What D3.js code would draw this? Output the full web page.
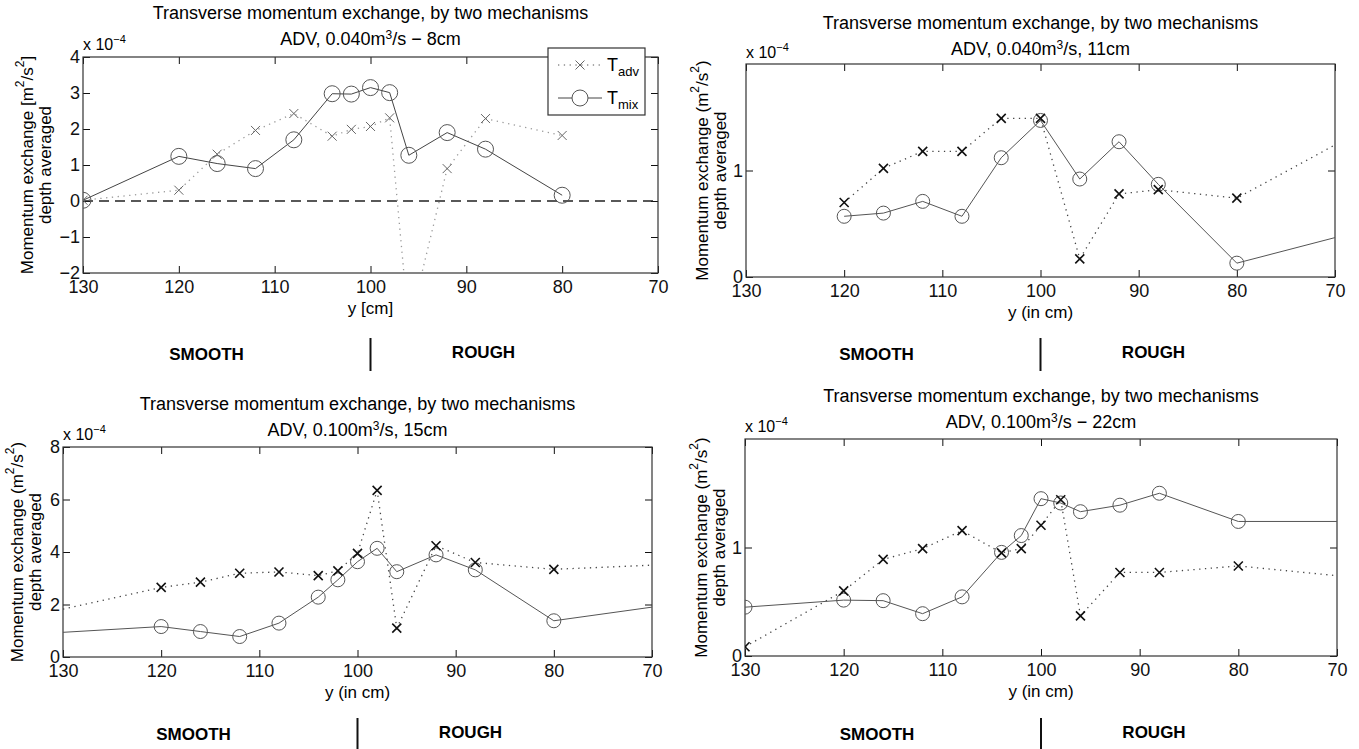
<!DOCTYPE html>
<html>
<head>
<meta charset="utf-8">
<script src="https://cdn.jsdelivr.net/npm/d3@7"></script>
<style>
  body { margin: 0; background: #fff; }
  svg { display: block; font-family: "Liberation Sans", Arial, Helvetica, sans-serif; }
</style>
</head>
<body>
<div id="chart"></div>
<script>
// y positions across the channel (cm) and the two exchange terms, x 10^-4 m2/s2
var pos8 = [130, 120, 116, 112, 108, 104, 102, 100, 98, 96, 92, 88, 80]
var adv8 = [0.02, 0.30, 1.30, 1.96, 2.43, 1.80, 1.99, 2.07, 2.31, -3.5, 0.90, 2.29, 1.82]
var mix8 = [0.02, 1.24, 1.04, 0.90, 1.70, 2.98, 2.97, 3.15, 3.01, 1.27, 1.90, 1.44, 0.16]

var pos11 = [120, 116, 112, 108, 104, 100, 96, 92, 88, 80, 70]
var adv11 = [0.70, 1.02, 1.18, 1.18, 1.49, 1.49, 0.17, 0.78, 0.82, 0.74, 1.24]
var mix11 = [0.57, 0.60, 0.71, 0.57, 1.12, 1.47, 0.92, 1.27, 0.87, 0.13, 0.37]

var pos15 = [130, 120, 116, 112, 108, 104, 102, 100, 98, 96, 92, 88, 80, 70]
var adv15 = [1.82, 2.65, 2.85, 3.19, 3.24, 3.10, 3.28, 3.95, 6.35, 1.10, 4.24, 3.60, 3.34, 3.50]
var mix15 = [0.94, 1.16, 0.97, 0.78, 1.29, 2.28, 2.94, 3.63, 4.14, 3.25, 3.89, 3.32, 1.38, 1.90]

var pos22 = [130, 120, 116, 112, 108, 104, 102, 100, 98, 96, 92, 88, 80, 70]
var adv22 = [0.085, 0.60, 0.89, 0.99, 1.155, 0.95, 0.99, 1.205, 1.44, 0.37, 0.77, 0.77, 0.83, 0.74]
var mix22 = [0.45, 0.515, 0.51, 0.39, 0.545, 0.955, 1.11, 1.45, 1.41, 1.33, 1.39, 1.50, 1.24, 1.24]

// line ends at the plot border that carry no marker
var edge8 = []
var edge11 = [70]
var edge15 = [130, 70]
var edge22 = [70]

var xTicks = [130, 120, 110, 100, 90, 80, 70]
var titleLine1 = "Transverse momentum exchange, by two mechanisms"

var W = 1359, H = 749

var svg = d3.select("#chart")
    .append("svg")
    .attr("width", W)
    .attr("height", H)

var fmt = function(d) { return d < 0 ? "\u2212" + Math.abs(d) : d }

function drawPanel(p) {
  var x = d3.scaleLinear().domain([130, 70]).range([p.left, p.right])
  var y = d3.scaleLinear().domain(p.yDomain).range([p.bottom, p.top])
  var g = svg.append("g")

  var clipId = "clip" + p.id
  g.append("clipPath").attr("id", clipId)
    .append("rect")
    .attr("x", p.left).attr("y", p.top)
    .attr("width", p.right - p.left).attr("height", p.bottom - p.top)

  // axes, ticks pointing inward on all four sides
  g.append("g")
    .attr("transform", "translate(0," + p.bottom + ")")
    .call(d3.axisBottom(x).tickValues(xTicks).tickSizeInner(-7).tickSizeOuter(0).tickPadding(7))
    .select(".domain").remove()
  g.append("g")
    .attr("transform", "translate(0," + p.top + ")")
    .call(d3.axisTop(x).tickValues(xTicks).tickSizeInner(-7).tickSizeOuter(0).tickFormat(""))
    .select(".domain").remove()
  g.append("g")
    .attr("transform", "translate(" + p.left + ",0)")
    .call(d3.axisLeft(y).tickValues(p.yTicks).tickSizeInner(-7).tickSizeOuter(0).tickPadding(3).tickFormat(fmt))
    .select(".domain").remove()
  g.append("g")
    .attr("transform", "translate(" + p.right + ",0)")
    .call(d3.axisRight(y).tickValues(p.yTicks).tickSizeInner(-7).tickSizeOuter(0).tickFormat(""))
    .select(".domain").remove()

  g.selectAll(".tick line").attr("stroke", "#111")
  g.selectAll(".tick text")
    .attr("fill", "#111")
    .style("font-size", "18px")
    .style("font-family", "'Liberation Sans', Arial, sans-serif")

  g.append("rect")
    .attr("x", p.left).attr("y", p.top)
    .attr("width", p.right - p.left).attr("height", p.bottom - p.top)
    .attr("fill", "none")
    .attr("stroke", "#333")
    .attr("stroke-width", 1.2)

  if (p.zeroLine) {
    g.append("line")
      .attr("x1", x(130)).attr("x2", x(70))
      .attr("y1", y(0)).attr("y2", y(0))
      .attr("stroke", "#222")
      .attr("stroke-dasharray", "10,6")
      .attr("stroke-width", 1.3)
  }

  var advPts = p.pos.map(function(d, i) { return { x: d, v: p.adv[i] } })
  var mixPts = p.pos.map(function(d, i) { return { x: d, v: p.mix[i] } })

  var line = d3.line()
    .x(function(d) { return x(d.x) })
    .y(function(d) { return y(d.v) })

  var plot = g.append("g").attr("clip-path", "url(#" + clipId + ")")

  plot.append("path")
    .datum(advPts)
    .attr("d", line)
    .attr("fill", "none")
    .attr("stroke", p.advLine)
    .attr("stroke-width", 1.3)
    .attr("stroke-dasharray", "1.3,4.5")

  plot.append("path")
    .datum(mixPts)
    .attr("d", line)
    .attr("fill", "none")
    .attr("stroke", p.mixLine)
    .attr("stroke-width", 1)

  var shown = function(d) { return p.edge.indexOf(d.x) < 0 }

  plot.selectAll(".circ")
    .data(mixPts.filter(shown))
    .enter().append("circle")
    .attr("class", "circ")
    .attr("cx", function(d) { return x(d.x) })
    .attr("cy", function(d) { return y(d.v) })
    .attr("r", p.r)
    .attr("fill", "none")
    .attr("stroke", p.circColor)
    .attr("stroke-width", 1)

  var s = 4.5
  plot.selectAll(".cross")
    .data(advPts.filter(shown))
    .enter().append("path")
    .attr("class", "cross")
    .attr("d", function(d) {
      var cx = x(d.x), cy = y(d.v)
      return "M" + (cx - s) + "," + (cy - s) + "L" + (cx + s) + "," + (cy + s) +
             "M" + (cx - s) + "," + (cy + s) + "L" + (cx + s) + "," + (cy - s)
    })
    .attr("stroke", p.crossColor)
    .attr("stroke-width", p.crossWidth)

  var cx = (p.left + p.right) / 2

  // titles
  g.append("text")
    .attr("x", cx).attr("y", p.titleY)
    .attr("text-anchor", "middle")
    .style("font-size", "18px")
    .text(titleLine1)
  var t2 = g.append("text")
    .attr("x", cx).attr("y", p.titleY + 26)
    .attr("text-anchor", "middle")
    .style("font-size", "18px")
  t2.append("tspan").text(p.sub[0])
  t2.append("tspan").attr("dy", -6).style("font-size", "12px").text("3")
  t2.append("tspan").attr("dy", 6).text(p.sub[1])

  // exponent label
  var ex = g.append("text")
    .attr("x", p.left).attr("y", p.expY)
    .style("font-size", "16px")
  ex.append("tspan").text("x 10")
  ex.append("tspan").attr("dy", -7).style("font-size", "11px").text("\u22124")

  // x label
  g.append("text")
    .attr("x", cx).attr("y", p.bottom + 41)
    .attr("text-anchor", "middle")
    .style("font-size", "17px")
    .text(p.xLabel)

  // y label, two lines
  var my = (p.top + p.bottom) / 2
  var yl = g.append("text")
    .attr("transform", "translate(" + p.yl1 + "," + my + ") rotate(-90)")
    .attr("text-anchor", "middle")
    .attr("dominant-baseline", "central")
    .style("font-size", "17px")
  yl.append("tspan").text("Momentum exchange " + p.br[0] + "m")
  yl.append("tspan").attr("dy", -7).style("font-size", "12px").text("2")
  yl.append("tspan").attr("dy", 7).text("/s")
  yl.append("tspan").attr("dy", -7).style("font-size", "12px").text("2")
  yl.append("tspan").attr("dy", 7).text(p.br[1])
  g.append("text")
    .attr("transform", "translate(" + p.yl2 + "," + my + ") rotate(-90)")
    .attr("text-anchor", "middle")
    .attr("dominant-baseline", "central")
    .style("font-size", "17px")
    .text("depth averaged")

  // smooth / rough annotation under the panel
  var bx = x(100)
  g.append("line")
    .attr("x1", bx).attr("x2", bx)
    .attr("y1", p.zoneY - 14).attr("y2", p.zoneY + 19)
    .attr("stroke", "#111")
    .attr("stroke-width", 2)
  g.append("text")
    .attr("x", bx - 164).attr("y", p.zoneY + 8)
    .attr("text-anchor", "middle")
    .style("font-size", "17px").style("font-weight", "bold")
    .text("SMOOTH")
  g.append("text")
    .attr("x", bx + 113).attr("y", p.zoneY + 6)
    .attr("text-anchor", "middle")
    .style("font-size", "17px").style("font-weight", "bold")
    .text("ROUGH")

  return { x: x, y: y, g: g }
}

var pA = drawPanel({
  id: "A", left: 83, right: 658, top: 57, bottom: 273,
  yDomain: [-2, 4], yTicks: [-2, -1, 0, 1, 2, 3, 4],
  pos: pos8, adv: adv8, mix: mix8, edge: edge8, zeroLine: true,
  advLine: "#9a9a9a", mixLine: "#444", circColor: "#555", crossColor: "#666", crossWidth: 1, r: 8,
  titleY: 19, expY: 50, sub: ["ADV, 0.040m", "/s \u2212 8cm"], xLabel: "y [cm]",
  yl1: 27, yl2: 45, br: ["[", "]"], zoneY: 352
})

drawPanel({
  id: "B", left: 746, right: 1335, top: 64, bottom: 277,
  yDomain: [0, 2], yTicks: [0, 1],
  pos: pos11, adv: adv11, mix: mix11, edge: edge11, zeroLine: false,
  advLine: "#444", mixLine: "#555", circColor: "#555", crossColor: "#111", crossWidth: 1.6, r: 7,
  titleY: 29, expY: 58, sub: ["ADV, 0.040m", "/s, 11cm"], xLabel: "y (in cm)",
  yl1: 702, yl2: 720, br: ["(", ")"], zoneY: 352
})

drawPanel({
  id: "C", left: 63, right: 652, top: 447, bottom: 657,
  yDomain: [0, 8], yTicks: [0, 2, 4, 6, 8],
  pos: pos15, adv: adv15, mix: mix15, edge: edge15, zeroLine: false,
  advLine: "#444", mixLine: "#555", circColor: "#555", crossColor: "#111", crossWidth: 1.6, r: 7,
  titleY: 410, expY: 440, sub: ["ADV, 0.100m", "/s, 15cm"], xLabel: "y (in cm)",
  yl1: 17, yl2: 35, br: ["(", ")"], zoneY: 732
})

drawPanel({
  id: "D", left: 745, right: 1337, top: 439, bottom: 656,
  yDomain: [0, 2], yTicks: [0, 1],
  pos: pos22, adv: adv22, mix: mix22, edge: edge22, zeroLine: false,
  advLine: "#444", mixLine: "#555", circColor: "#555", crossColor: "#111", crossWidth: 1.6, r: 7,
  titleY: 402, expY: 432, sub: ["ADV, 0.100m", "/s \u2212 22cm"], xLabel: "y (in cm)",
  yl1: 701, yl2: 719, br: ["(", ")"], zoneY: 732
})

// legend, first panel only
var lg = pA.g.append("g")
lg.append("rect")
  .attr("x", 548).attr("y", 48)
  .attr("width", 97).attr("height", 67)
  .attr("fill", "#fff")
  .attr("stroke", "#333")
  .attr("stroke-width", 1.2)

var legendItems = [
  { sub: "adv", y: 65 },
  { sub: "mix", y: 98 }
]
legendItems.forEach(function(d, i) {
  lg.append("line")
    .attr("x1", 558).attr("x2", 602)
    .attr("y1", d.y).attr("y2", d.y)
    .attr("stroke", i === 0 ? "#555" : "#444")
    .attr("stroke-dasharray", i === 0 ? "1.3,4.5" : null)
  if (i === 0) {
    lg.append("path")
      .attr("d", "M575.5,60.5L584.5,69.5M575.5,69.5L584.5,60.5")
      .attr("stroke", "#666")
  } else {
    lg.append("circle")
      .attr("cx", 580).attr("cy", d.y).attr("r", 8)
      .attr("fill", "#fff").attr("stroke", "#555")
  }
  var t = lg.append("text")
    .attr("x", 607).attr("y", d.y + 6)
    .style("font-size", "18px")
  t.append("tspan").text("T")
  t.append("tspan").attr("dy", 5).style("font-size", "13px").text(d.sub)
})
</script>
</body>
</html>
